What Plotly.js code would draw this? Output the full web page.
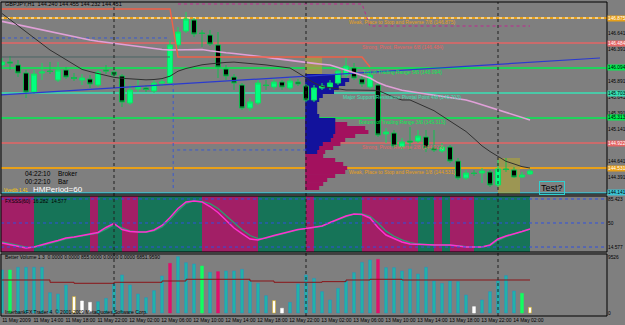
<!DOCTYPE html>
<html><head><meta charset="utf-8">
<script src="https://cdn.plot.ly/plotly-3.0.1.min.js"></script>
<style>html,body{margin:0;padding:0;background:#7f7f7f;}#chart{width:625px;height:325px;}</style>
</head><body><div id="chart"></div>
<script>
// ---------- DATA ----------
const xLabels = ['11 May 2009','11 May 14:00','11 May 18:00','11 May 22:00','12 May 02:00','12 May 06:00','12 May 10:00','12 May 14:00','12 May 18:00','12 May 22:00','13 May 02:00','13 May 06:00','13 May 10:00','13 May 14:00','13 May 18:00','13 May 22:00','14 May 02:00'];
const xLabelBars = [0,4,8,12,16,20,24,28,32,36,40,44,48,52,56,60,64];
const dayBreaks = [14,38,62];

const open = [146.141,146.188,146.141,146.016,145.719,146.016,146.047,145.906,146.063,145.945,
145.906,145.922,145.828,146.063,146.031,145.969,145.547,145.766,145.781,145.734,
145.859,145.859,146.453,146.672,146.844,146.641,146.609,146.453,146.078,145.953,
145.828,145.469,145.547,145.828,145.797,145.875,145.781,145.875,145.813,145.594,
145.781,145.797,145.859,145.984,146.094,145.922,145.797,145.828,145.063,145.078,
144.859,144.953,144.953,145.016,144.844,144.797,144.859,144.641,144.375,144.453,
144.453,144.469,144.266,144.516,144.500,144.391,144.438];
const high = [146.250,146.281,146.219,146.063,146.063,146.172,146.188,146.188,146.109,146.016,
146.000,145.984,146.063,146.141,146.078,146.000,145.828,145.922,145.828,145.906,
145.938,146.531,146.734,146.969,146.875,146.688,146.688,146.656,146.141,146.000,
145.859,145.625,145.906,145.906,145.938,145.906,145.938,145.922,145.844,145.828,
145.859,145.906,146.094,146.266,146.172,145.984,146.063,145.875,145.156,145.125,
145.000,145.172,145.125,145.125,145.125,144.922,144.891,144.688,144.500,144.500,
144.531,144.500,144.656,144.688,144.547,144.469,144.516];
const low = [146.109,146.063,145.953,145.625,145.688,145.906,146.000,145.875,145.922,145.891,
145.828,145.781,145.797,146.000,145.938,145.484,145.516,145.719,145.719,145.703,
145.813,145.844,146.375,146.641,146.578,146.422,146.438,145.938,145.906,145.750,
145.438,145.422,145.516,145.750,145.750,145.750,145.750,145.813,145.563,145.563,
145.750,145.750,145.828,145.938,145.906,145.797,145.766,145.016,144.922,144.844,
144.813,144.813,144.922,144.781,144.781,144.766,144.609,144.344,144.344,144.406,
144.297,144.234,144.234,144.469,144.375,144.375,144.422];
const close = [146.188,146.172,146.016,145.719,146.000,146.031,146.039,146.063,145.953,145.930,
145.938,145.844,146.031,146.047,145.984,145.563,145.750,145.797,145.758,145.859,
145.875,146.453,146.656,146.859,146.625,146.633,146.469,146.109,145.969,145.859,
145.469,145.563,145.859,145.820,145.875,145.797,145.891,145.844,145.594,145.781,
145.813,145.859,146.047,146.125,145.938,145.844,145.984,145.047,145.094,144.875,
144.938,144.938,145.031,144.844,144.813,144.859,144.641,144.375,144.453,144.445,
144.484,144.266,144.516,144.508,144.391,144.422,144.484];

const maSlow = [146.822,146.795,146.769,146.742,146.716,146.688,146.661,146.633,146.606,146.578,
146.550,146.530,146.511,146.494,146.475,146.459,146.444,146.430,146.414,146.400,
146.384,146.375,146.375,146.380,146.386,146.384,146.363,146.342,146.331,146.320,
146.308,146.297,146.280,146.263,146.244,146.227,146.209,146.192,146.178,146.166,
146.153,146.141,146.100,146.059,146.019,145.978,145.938,145.866,145.816,145.781,
145.745,145.727,145.708,145.689,145.670,145.652,145.633,145.614,145.595,145.559,
145.519,145.480,145.441,145.400,145.361,145.320,145.281];
const maFast = [146.945,146.850,146.753,146.659,146.564,146.470,146.375,146.300,146.223,146.148,
146.072,146.037,146.008,145.978,145.948,145.933,145.925,145.917,145.909,145.914,
145.928,145.966,146.044,146.086,146.117,146.144,146.158,146.173,146.181,146.186,
146.177,146.166,146.155,146.142,146.125,146.109,146.094,146.019,145.944,145.861,
145.805,145.786,145.767,145.750,145.750,145.750,145.750,145.744,145.689,145.634,
145.594,145.594,145.539,145.484,145.427,145.345,145.264,145.183,145.102,144.992,
144.877,144.789,144.706,144.636,144.595,144.553,144.531];

// channel step lines
const upperBars = [0,21,22,45,46];
const upperVals = [147.016,147.016,146.266,146.266,146.109];
const hiBars = [22,45,46,66];
const hiVals = [147.094,147.094,146.750,146.750];
const trendBars = [-0.25,74.75];
const trendVals = [145.672,146.250];
const pivotBars = [0,21];
const pivotVals = [146.563,146.563];
const darkBars = [0,21];
const darkVals = [146.266,146.266];

// Murrey Math levels 0/8 .. 7/8
const mmLevels = [144.141,144.531,144.922,145.313,145.703,146.094,146.484,146.875];
const mmNames = ['','Weak, Place to Stop and Reverse 1/8','Strong, Pivot, Reverse 2/8','Bottom of Trading Range 3/8','Major Support/Resistance Pivotal Point 4/8','Top of Trading Range 5/8','Strong, Pivot, Reverse 6/8','Weak, Place to Stop and Reverse 7/8'];
const mmColors = ['#3cc4d4','#e8a018','#e46464','#00ee50','#38e0b4','#00ee50','#e46464','#e8a018'];

// market profile (price level -> width in bars)
const profPrices = [145.281,145.219,145.156,145.094,145.031,144.969,144.906,144.844,144.781,144.719,144.656,144.594,144.531,144.469,144.406,144.344,144.281,144.219];
const profVol = [3.75,5.25,7.5,7.9,6.25,5,4.4,3.5,2.5,2.25,3.75,4.75,5.25,5,3.75,2.75,2.25,1.75];
const tpoPrices = [145.969,145.906,145.844,145.781,145.719,145.656,145.594,145.531,145.469,145.406,145.344,145.281,145.219,145.156,145.094,145.031,144.969,144.906,144.844,144.781];
const tpoCount = [4.5,5.5,5,4.2,3.6,2.2,1.75,1.5,1.5,1.5,1.75,3.75,3.75,3.75,3.75,3.5,3.2,2.2,1.75,1.5];
const profStart = 37.9;

// highlighted zones [x0,x1,y0,y1]
const zones = [[37.9,40.0,145.906,146.266],[62.0,64.75,144.125,144.688]];

// oscillator panel
const osc = [20.5,18.3,15.3,13.1,14.6,18.3,21.2,24.2,27.9,29.4,
31.6,33.8,36.0,43.4,49.3,40.4,37.5,36.7,36.7,39.7,
46.3,58.1,71.4,81.0,82.5,81.0,74.3,65.5,53.7,42.6,
34.5,26.4,24.9,28.6,31.6,34.5,37.5,40.4,41.9,43.4,
45.6,50.7,55.9,60.3,63.3,62.5,57.4,43.4,32.3,27.1,
22.0,19.0,18.3,17.6,17.6,17.6,17.6,16.1,14.6,14.6,
14.6,17.6,26.4,30.8,33.8,37.5,41.2];
const sig = [22.0,20.0,17.0,14.5,14.0,16.5,20.0,23.0,26.5,28.8,
31.0,33.0,35.2,41.0,47.0,43.0,38.5,37.0,36.7,38.5,
44.0,55.0,68.0,79.0,82.5,82.0,78.5,71.5,61.0,50.0,
40.0,31.5,27.0,27.8,30.8,34.0,37.0,40.0,41.7,43.2,
45.2,50.0,55.0,59.5,63.0,63.5,60.0,50.0,38.0,30.5,
25.0,21.0,19.0,18.0,17.6,17.6,17.6,16.5,15.0,14.6,
14.6,16.5,24.5,30.0,33.5,37.0,40.8];
const trendState = ('mmmmm' + 'ggggggg' + 'm' + 'ggg' + 'mm' + 'gggggggg' + 'mmmmmmm' + 'gggggg' + 'm' +
  'gggggg' + 'mmmmmmm' + 'gg' + 'm' + 'g' + 'mmm' + 'ggggggg').split('');
const oscLevels = [85.423,50,14.577];

// volume panel
const vol = [7310,7310,7770,7770,7770,7770,3450,3230,4760,2780,
2040,1810,1925,2490,4930,6460,4760,3230,2610,3800,
6290,8440,9570,8550,8330,7990,6910,7030,7140,7140,
7420,5440,5040,2950,2100,800,1810,4930,6460,5890,
3630,2210,4190,5500,6860,8610,9010,9120,7710,7710,
7140,7480,6630,7770,5440,5040,5440,5330,3060,1080,
2210,3630,5500,6350,3740,3350,970];
const volType = ('tg' + 'ttttttt' + 'y' + 'ww' + 'ttttttttt' + 'm' + 'ttt' + 'g' + 't' + 'm' + 'tttttt' + 'y' + 'w' +
  'ttttttttttt' + 'm' + 'ttttttttttt' + 'w' + 'ttttt' + 'g' + 'y').split('');
const volMA = [5610,5610,5610,5610,5610,5610,5220,5220,5220,5050,
5050,5050,5050,5050,5220,5220,5220,5220,5220,5220,
5440,5440,5440,5730,5730,5730,5730,5730,5730,5730,
5730,5440,5440,5440,5220,5220,5220,5220,5220,5220,
5330,5330,5330,5610,5610,5610,5730,5730,5730,5730,
5610,5610,5610,5610,5610,5610,5610,5610,5610,5610,
5610,5610,5610,5610,5610,5610,5610];
const volTop = 9526;

// ---------- DRAWING ----------
const idx = open.map((_, i) => i);
const PX = x => (x - 1) / 606;
const PY = y => (316 - y) / 314;
const FONT = 'Liberation Sans, Arial, sans-serif';
const dMain = [0.3885, 1], dOsc = [0.2038, 0.3822], dVol = [0, 0.1975];
const rMain = [144.125, 147.125], rOsc = [7.225, 89.825], rVol = [-510, 10030];

const bgCol = {m:'#a21f66', g:'#167458'};
const volFill = {t:'#1fb4a8', g:'#10ff60', m:'#e0106c', w:'#ffffff', y:'#ffffff'};
const volLine = {t:'#2a8ec6', g:'#10ff60', m:'#e0106c', w:'#ffffff', y:'#e0b000'};

const traces = [];
// profile
traces.push({type:'bar', orientation:'h', y:profPrices, x:profVol, base:profStart, width:0.0625,
  marker:{color:'#a3115e', line:{width:0}}, xaxis:'x', yaxis:'y', hoverinfo:'skip'});
traces.push({type:'bar', orientation:'h', y:tpoPrices, x:tpoCount, base:profStart, width:0.0625,
  marker:{color:'#12129c', line:{width:0}}, xaxis:'x', yaxis:'y', hoverinfo:'skip'});
// lines
traces.push({type:'scatter', mode:'lines', x:trendBars, y:trendVals, line:{color:'#2a3ad0', width:1.2}, xaxis:'x', yaxis:'y'});
traces.push({type:'scatter', mode:'lines', x:pivotBars, y:pivotVals, line:{color:'#3a5ad0', width:1, dash:'dot'}, xaxis:'x', yaxis:'y'});
traces.push({type:'scatter', mode:'lines', x:darkBars, y:darkVals, line:{color:'#4a6464', width:1}, xaxis:'x', yaxis:'y'});
traces.push({type:'scatter', mode:'lines', x:idx, y:maSlow, line:{color:'#e0a0d8', width:1.6}, xaxis:'x', yaxis:'y'});
traces.push({type:'scatter', mode:'lines', x:idx, y:maFast, line:{color:'#303030', width:1}, xaxis:'x', yaxis:'y'});
traces.push({type:'scatter', mode:'lines', x:upperBars, y:upperVals, line:{color:'#f06048', width:1.4}, xaxis:'x', yaxis:'y'});
traces.push({type:'scatter', mode:'lines', x:hiBars, y:hiVals, line:{color:'#c02890', width:1, dash:'dot'}, xaxis:'x', yaxis:'y'});
// candles
traces.push({type:'candlestick', x:idx, open:open, high:high, low:low, close:close,
  increasing:{line:{color:'#10e060', width:1}, fillcolor:'#00ff80'},
  decreasing:{line:{color:'#10c050', width:1}, fillcolor:'#000000'},
  xaxis:'x', yaxis:'y', hoverinfo:'skip'});
// oscillator background
traces.push({type:'bar', x:idx.map(i => i - 0.5), y:idx.map(() => rOsc[1] - rOsc[0]), base:rOsc[0], width:1,
  marker:{color:trendState.map(s => bgCol[s]), line:{width:0}},
  xaxis:'x', yaxis:'y2', hoverinfo:'skip'});
traces.push({type:'scatter', mode:'lines', x:idx, y:sig, line:{color:'#2aa070', width:1.3}, xaxis:'x', yaxis:'y2'});
traces.push({type:'scatter', mode:'lines', x:idx, y:osc, line:{color:'#ff30d0', width:1.5}, xaxis:'x', yaxis:'y2'});
// volume
traces.push({type:'bar', x:idx, y:vol, width:0.36,
  marker:{color:volType.map(t => volFill[t]), line:{color:volType.map(t => volLine[t]), width:0.5}},
  xaxis:'x', yaxis:'y3', hoverinfo:'skip'});
traces.push({type:'scatter', mode:'lines', x:idx, y:volMA, line:{color:'#8a1418', width:1, shape:'hv'}, xaxis:'x', yaxis:'y3'});

const shapes = [];
const annotations = [];
// zones
zones.forEach(z => shapes.push({type:'rect', xref:'x', yref:'y', x0:z[0], x1:z[1], y0:z[2], y1:z[3],
  fillcolor:'#a8a040', opacity:0.7, line:{width:0}, layer:'below'}));
// Murrey lines
mmLevels.forEach((lv, k) => {
  shapes.push({type:'line', xref:'paper', yref:'y', x0:0, x1:1, y0:lv, y1:lv,
    line:{color:mmColors[k], width:(k===1||k===7)?2:1.5}, layer:'below'});
  if (k === 7) shapes.push({type:'line', xref:'paper', yref:'y', x0:0, x1:1, y0:lv, y1:lv,
    line:{color:'#ffffff', width:1, dash:'dot'}, layer:'below'});
  if (mmNames[k]) annotations.push({xref:'x', yref:'y', x:50, y:lv, yshift:-4, showarrow:false,
    text:mmNames[k] + ' (' + lv.toFixed(3) + ')', font:{family:FONT, size:5, color:mmColors[k]}});
  annotations.push({xref:'paper', yref:'y', x:1, xanchor:'left', y:lv, showarrow:false, text:lv.toFixed(3),
    bgcolor:mmColors[k], borderpad:0, font:{family:FONT, size:4.8, color:(k===1||k===7||k===2||k===6)?'#ffffff':'#000000'}});
});
// blue dotted pivot box
shapes.push({type:'line', xref:'x', yref:'y', x0:21.4, x1:21.4, y0:145.859, y1:144.188, line:{color:'#3a5ad0', width:1, dash:'dot'}});
shapes.push({type:'line', xref:'x', yref:'y', x0:21.9, x1:38.1, y0:144.813, y1:144.813, line:{color:'#3a5ad0', width:1, dash:'dot'}});
// day separators
dayBreaks.forEach(b => shapes.push({type:'line', xref:'x', yref:'paper', x0:b, x1:b, y0:0, y1:1,
  line:{color:'#202020', width:1, dash:'dot'}}));
// oscillator levels
oscLevels.forEach(v => shapes.push({type:'line', xref:'paper', yref:'y2', x0:0, x1:1, y0:v, y1:v,
  line:{color:'#3050e0', width:1, dash:'dot'}, layer:'above'}));
// panel borders
[dMain, dOsc, dVol].forEach(d => shapes.push({type:'rect', xref:'paper', yref:'paper', x0:0, x1:1, y0:d[0], y1:d[1],
  line:{color:'#000000', width:1}, fillcolor:'rgba(0,0,0,0)'}));

const txt = (x, y, t, size, color, extra) => annotations.push(Object.assign({xref:'paper', yref:'paper', x:PX(x), y:PY(y),
  xanchor:'left', yanchor:'middle', showarrow:false, text:t, font:{family:FONT, size:size, color:color}}, extra || {}));
txt(3, 4, 'GBPJPY,H1  144.240 144.455 144.232 144.451', 5.5, '#000000');
txt(23, 173, '04:22:10', 6.5, '#000000');
txt(56, 173, 'Broker', 6.5, '#000000');
txt(23, 181, '00:22:10', 6.5, '#000000');
txt(56, 181, 'Bar', 6.5, '#000000');
txt(2, 190, 'Vvedib 1.41', 4.5, '#ffd000');
txt(31, 189, 'HMPeriod=60', 8, '#ffffff');
txt(539, 188, 'Test?', 9, '#000000', {bordercolor:'#30d0d0', borderwidth:1, borderpad:1});
txt(3, 201, 'FXSSS(60)  16.282  14.577', 5, '#000000');
txt(3, 257, 'Better Volume 1.3  0.0000 0.0000 855.0000 0.0000 0.0000 6851.9590', 5, '#000000');
txt(3, 312, 'InterbankFX Trader 4, © 2001-2009 MetaQuotes Software Corp.', 5, '#000000');

const yCommon = {side:'right', showgrid:false, zeroline:false, ticks:'', showline:false,
  tickfont:{family:FONT, size:4.8, color:'#000000'}, fixedrange:true};

const layout = {
  width:625, height:325, margin:{l:1, r:18, t:2, b:9},
  paper_bgcolor:'#7f7f7f', plot_bgcolor:'#7f7f7f', showlegend:false,
  barmode:'overlay', boxgap:0.2, boxgroupgap:0.2, hovermode:false,
  font:{family:FONT, size:6, color:'#000000'},
  xaxis:{anchor:'y3', range:[-0.125, 75.625], showgrid:false, zeroline:false, showline:false, ticks:'',
    tickangle:0, tickvals:xLabelBars.map(b => b + 1.8), ticktext:xLabels,
    tickfont:{family:FONT, size:5, color:'#000000'},
    rangeslider:{visible:false}, fixedrange:true},
  yaxis:Object.assign({}, yCommon, {domain:dMain, range:rMain,
    tickvals:[144.391,144.641,145.141,145.391,145.641,145.891,146.391,146.641],
    ticktext:['144.391','144.641','145.141','145.391','145.641','145.891','146.391','146.641']}),
  yaxis2:Object.assign({}, yCommon, {domain:dOsc, range:rOsc, anchor:'x',
    tickvals:oscLevels, ticktext:oscLevels.map(v => String(v))}),
  yaxis3:Object.assign({}, yCommon, {domain:dVol, range:rVol, anchor:'x',
    tickvals:[volTop, 0], ticktext:[String(volTop), '0']}),
  shapes:shapes, annotations:annotations
};
Plotly.newPlot('chart', traces, layout, {displayModeBar:false, staticPlot:true});
</script></body></html>
